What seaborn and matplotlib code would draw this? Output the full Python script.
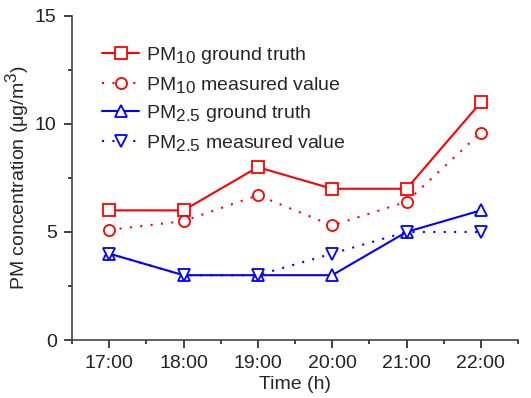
import matplotlib
matplotlib.use("Agg")
import matplotlib.pyplot as plt
import matplotlib._mathtext as _mt
import seaborn as sns
import pandas as pd
from matplotlib.ticker import MultipleLocator

times = ["17:00", "18:00", "19:00", "20:00", "21:00", "22:00"]
pm10_truth = [6, 6, 8, 7, 7, 11]
pm10_meas = [5.1, 5.5, 6.7, 5.3, 6.4, 9.6]
pm25_truth = [4, 3, 3, 3, 5, 6]
pm25_meas = [4, 3, 3, 4, 5, 5]

sns.set_style("ticks")
plt.rcParams['font.family'] = ['Liberation Sans', 'DejaVu Sans']
plt.rcParams['mathtext.fontset'] = 'custom'
plt.rcParams['mathtext.rm'] = 'Liberation Sans'
plt.rcParams['mathtext.it'] = 'Liberation Sans'
try:
    _mt.SHRINK_FACTOR = 0.88
except Exception:
    pass

fig = plt.figure(figsize=(5.31, 3.98), dpi=100)
ax = fig.add_axes([0.1356, 0.1457, 0.84, 0.8143])

x = list(range(len(times)))
series = [
    (pm10_truth, "PM$_{10}$ ground truth", "red", "-", "s"),
    (pm10_meas, "PM$_{10}$ measured value", "red", (0, (1, 4)), "o"),
    (pm25_truth, "PM$_{2.5}$ ground truth", "blue", "-", "^"),
    (pm25_meas, "PM$_{2.5}$ measured value", "blue", (0, (1, 4)), "v"),
]
for vals, lab, col, ls, mk in series:
    df = pd.DataFrame({"x": x, "y": vals})
    sns.lineplot(data=df, x="x", y="y", ax=ax, color=col, linestyle=ls,
                 marker=mk, markersize=8, markerfacecolor="white",
                 markeredgecolor=col, markeredgewidth=1.3, linewidth=1.5,
                 label=lab)

ax.set_xlim(-0.5, 5.5)
ax.set_ylim(0, 15)
ax.set_xticks(x)
ax.set_xticklabels(times)
ax.xaxis.set_minor_locator(MultipleLocator(0.5))
ax.yaxis.set_major_locator(MultipleLocator(5))
ax.yaxis.set_minor_locator(MultipleLocator(2.5))
ax.tick_params(axis='both', which='major', length=6, width=1.2, labelsize=14, colors='#222222', pad=5)
ax.tick_params(axis='both', which='minor', length=3, width=1.2, colors='#222222')
ax.set_xlabel("Time (h)", fontsize=14, labelpad=3)
ax.set_ylabel("PM concentration (μg/m$^3$)", fontsize=14, labelpad=3)
for s in ["top", "right"]:
    ax.spines[s].set_visible(False)
for s in ["left", "bottom"]:
    ax.spines[s].set_linewidth(1.2)
    ax.spines[s].set_color('#444444')

ax.legend(loc="upper left", bbox_to_anchor=(0.05, 0.935), frameon=False,
          fontsize=14, handlelength=1.9, handletextpad=0.35,
          labelspacing=0.45, borderaxespad=0)

fig.savefig("out.png", dpi=100)
